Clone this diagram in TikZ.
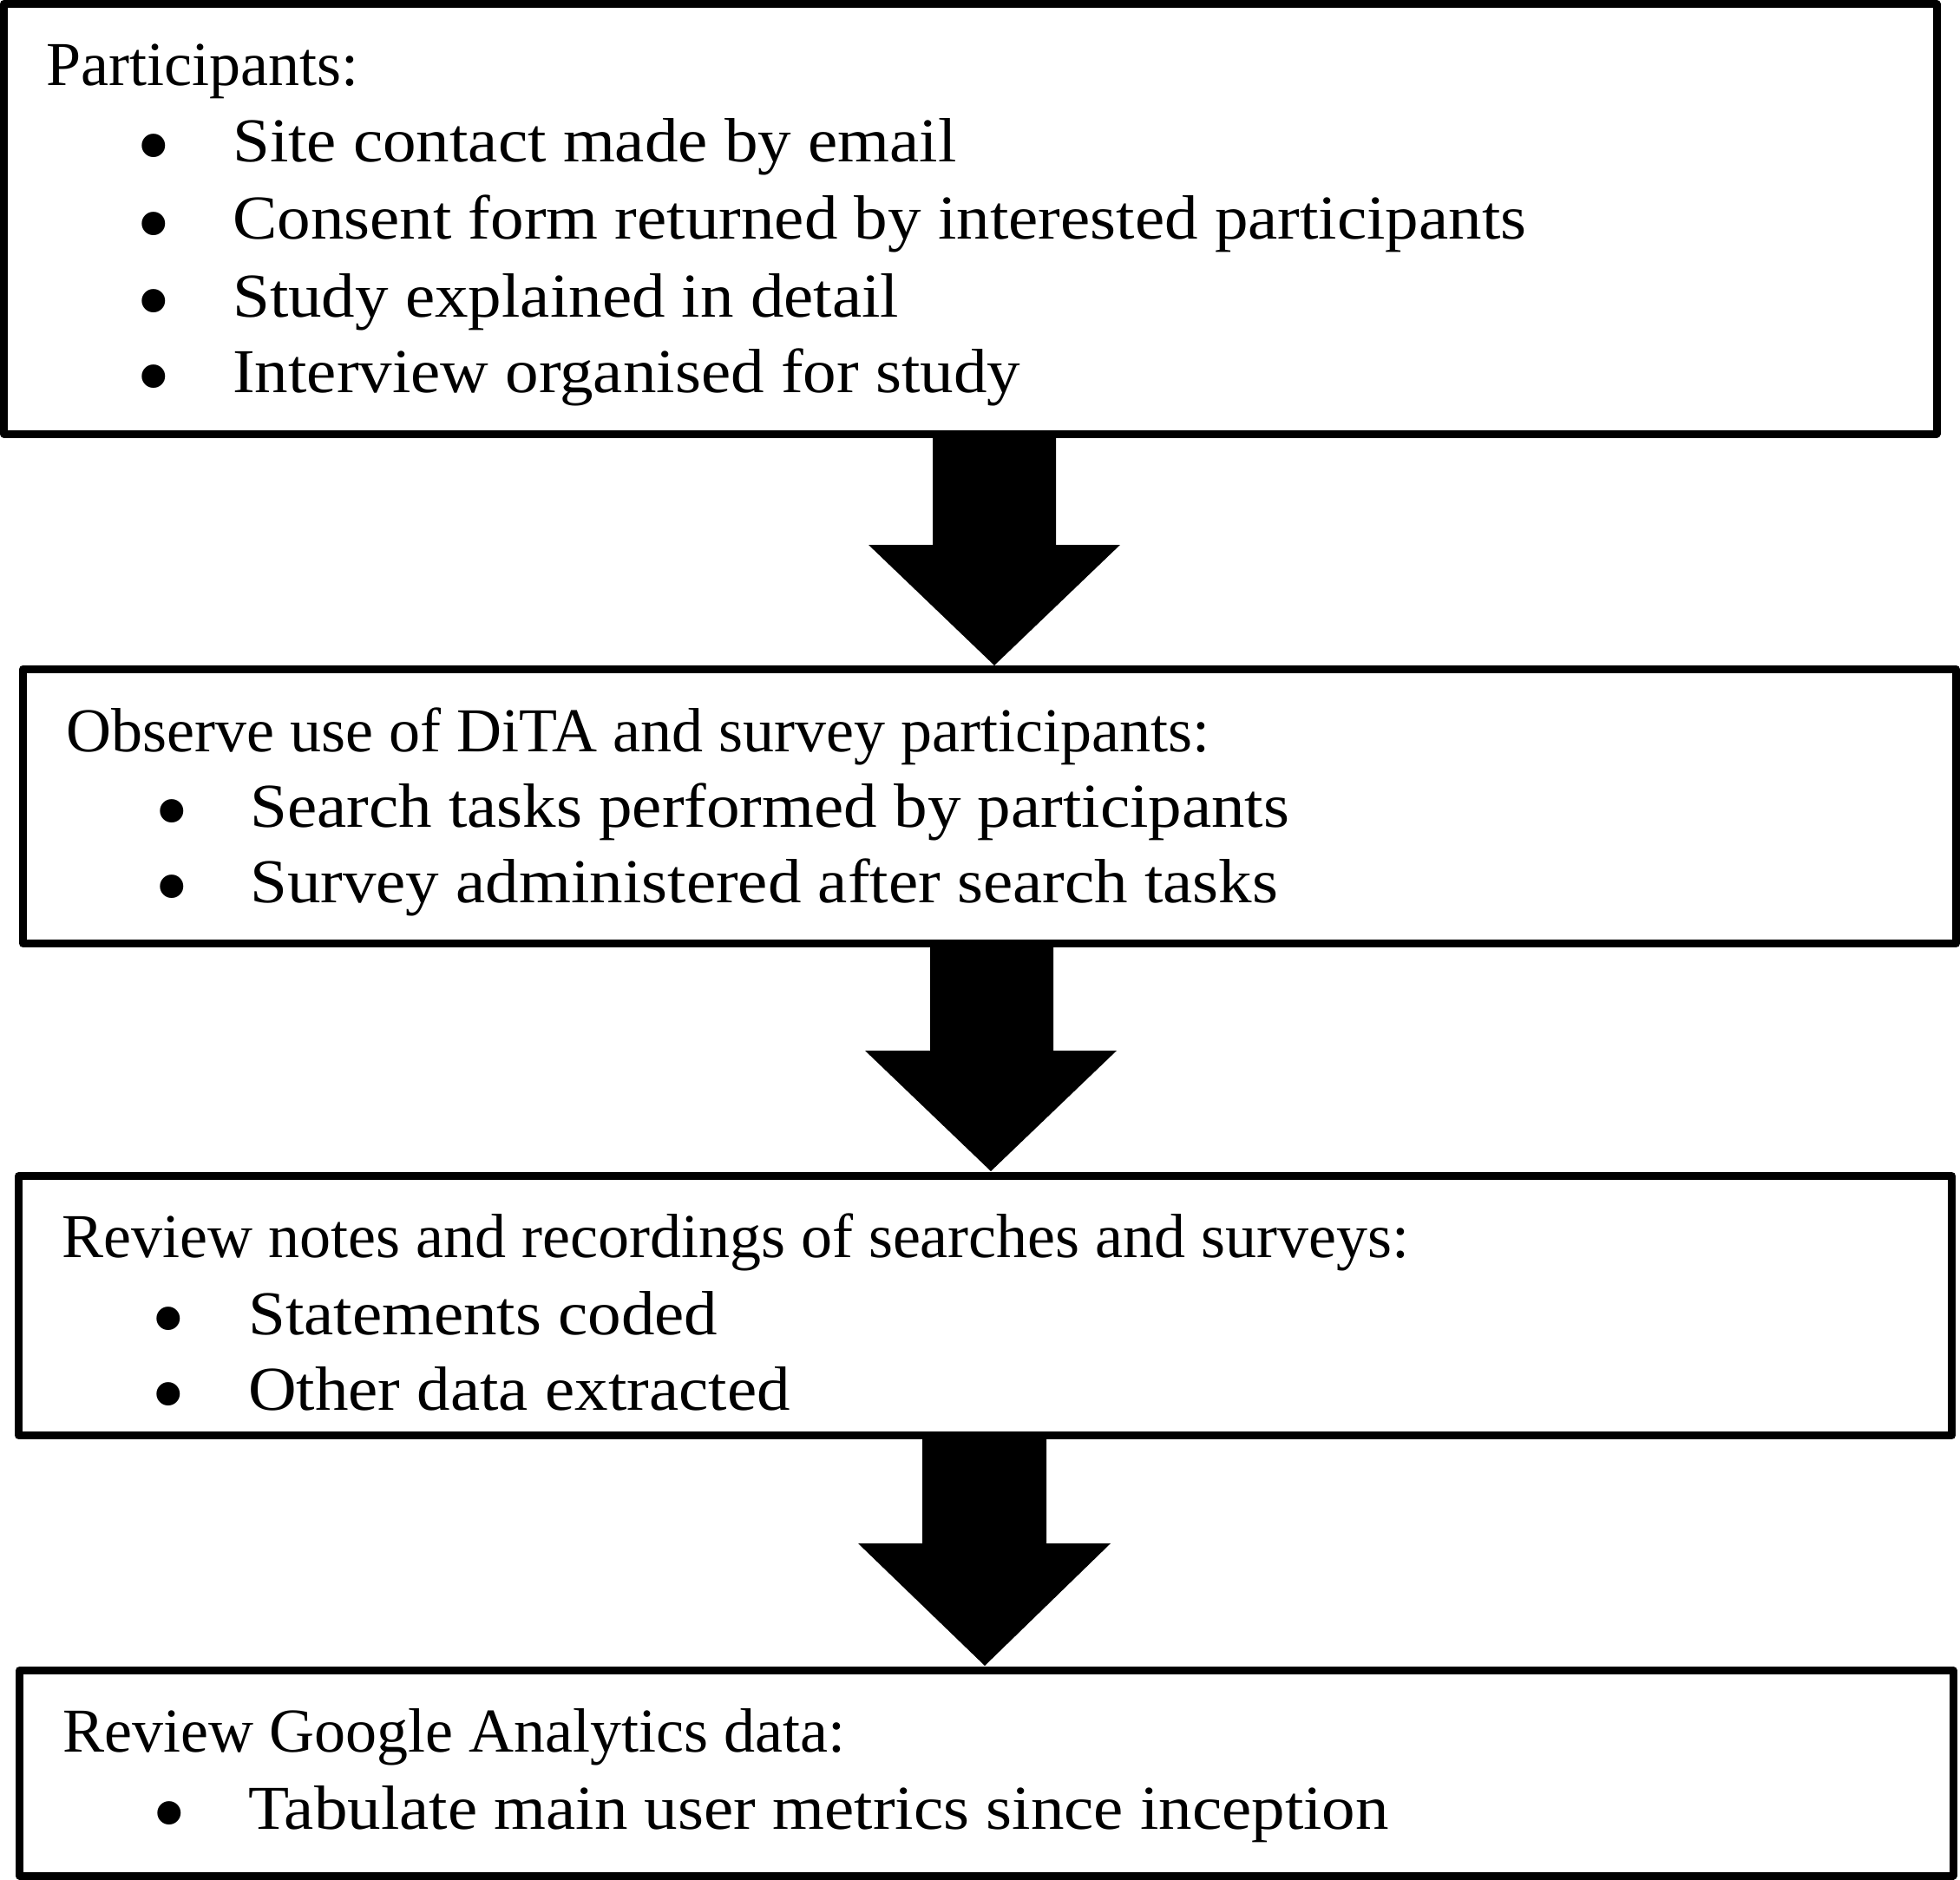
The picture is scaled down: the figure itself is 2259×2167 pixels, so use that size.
\documentclass[tikz,border=0pt]{standalone}
\usepackage{fontspec}
\usepackage{graphicx}
\setmainfont{Liberation Serif}
\newfontfamily\itemfont[FakeStretch=1.07]{Liberation Serif}
\newcommand{\bigbul}{\scalebox{1.57}{•}}
\begin{document}
\begin{tikzpicture}[x=1pt,y=-1pt,
  box/.style={draw=black, line width=9pt, line join=round, rectangle, inner sep=0pt, outer sep=0pt, anchor=north west},
  head/.style={anchor=base west, inner sep=0pt, font=\fontsize{72}{88}\selectfont},
  itm/.style={anchor=base west, inner sep=0pt, font=\itemfont\fontsize{72}{88}\selectfont},
  dot/.style={anchor=base, inner sep=0pt, yshift=-19pt, font=\fontsize{72}{72}\selectfont},
  blockarrow/.style={fill=black}]
\useasboundingbox (0,0) rectangle (2259,2167);
% boxes
\node[box, minimum width=2227.5pt, minimum height=495.5pt] (b1) at (4.5,4.5) {};
\node[box, minimum width=2228pt, minimum height=316.5pt] (b2) at (26.5,771) {};
\node[box, minimum width=2228pt, minimum height=299pt] (b3) at (21.5,1355.5) {};
\node[box, minimum width=2228.5pt, minimum height=236.5pt] (b4) at (22.5,1925.5) {};
% box 1 text
\node[head] (h1) at (53,99) {Participants:};
\node[dot] (d11) at (177,187) {\bigbul};
\node[itm] (i11) at (268,187) {Site contact made by email};
\node[dot] (d12) at (177,276) {\bigbul};
\node[itm] (i12) at (268,276) {Consent form returned by interested participants};
\node[dot] (d13) at (177,365) {\bigbul};
\node[itm] (i13) at (268,365) {Study explained in detail};
\node[dot] (d14) at (177,452) {\bigbul};
\node[itm] (i14) at (268,452) {Interview organised for study};
% box 2 text
\node[head] (h2) at (76,866) {Observe use of DiTA and survey participants:};
\node[dot] (d21) at (198,953) {\bigbul};
\node[itm] (i21) at (288,953) {Search tasks performed by participants};
\node[dot] (d22) at (198,1040) {\bigbul};
\node[itm] (i22) at (288,1040) {Survey administered after search tasks};
% box 3 text
\node[head] (h3) at (71,1449) {Review notes and recordings of searches and surveys:};
\node[dot] (d31) at (194,1538) {\bigbul};
\node[itm] (i31) at (286,1538) {Statements coded};
\node[dot] (d32) at (194,1625) {\bigbul};
\node[itm] (i32) at (286,1625) {Other data extracted};
% box 4 text
\node[head] (h4) at (72,2019) {Review Google Analytics data:};
\node[dot] (d41) at (195,2108) {\bigbul};
\node[itm] (i41) at (286,2108) {Tabulate main user metrics since inception};
% arrow tips
\coordinate (t1) at (1146,767);
\coordinate (t2) at (1142,1350);
\coordinate (t3) at (1135,1920);
% block arrows
\fill[blockarrow] (1075,0 |- b1.south) -- (1075,628) -- (1001,628) -- (t1) -- (1291,628) -- (1217,628) -- (1217,0 |- b1.south) -- cycle;
\fill[blockarrow] (1072,0 |- b2.south) -- (1072,1211) -- (997,1211) -- (t2) -- (1287,1211) -- (1214,1211) -- (1214,0 |- b2.south) -- cycle;
\fill[blockarrow] (1063,0 |- b3.south) -- (1063,1779) -- (989,1779) -- (t3) -- (1280,1779) -- (1206,1779) -- (1206,0 |- b3.south) -- cycle;
\end{tikzpicture}
\end{document}
